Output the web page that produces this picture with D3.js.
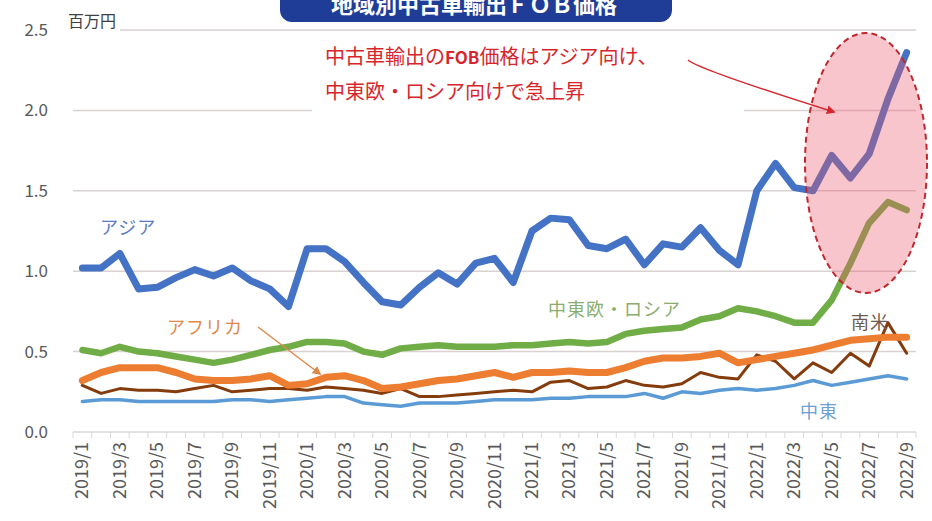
<!DOCTYPE html>
<html>
<head>
<meta charset="utf-8">
<script src="https://cdn.jsdelivr.net/npm/d3@7"></script>
<style>
  body { margin: 0; background: #fff; }
  svg { font-family: "Noto Sans CJK JP", "Noto Sans", sans-serif; }
</style>
</head>
<body>
<svg id="chart" width="932" height="521"></svg>
<script>
// months 2019/1 .. 2022/9
months = [];
for (yr = 2019; yr <= 2022; yr++) {
    for (m = 1; m <= 12; m++) {
        if (yr === 2022 && m > 9) break;
        months.push(`${yr}/${m}`);
    }
}

asia = [1.02,1.02,1.11,0.89,0.90,0.96,1.01,0.97,1.02,0.94,0.89,0.78,
        1.14,1.14,1.06,0.93,0.81,0.79,0.90,0.99,0.92,1.05,1.08,0.93,
        1.25,1.33,1.32,1.16,1.14,1.20,1.04,1.17,1.15,1.27,1.13,1.04,
        1.50,1.67,1.52,1.50,1.72,1.58,1.73,2.07,2.36];
ceeRussia = [0.51,0.49,0.53,0.50,0.49,0.47,0.45,0.43,0.45,0.48,0.51,0.53,
        0.56,0.56,0.55,0.50,0.48,0.52,0.53,0.54,0.53,0.53,0.53,0.54,
        0.54,0.55,0.56,0.55,0.56,0.61,0.63,0.64,0.65,0.70,0.72,0.77,
        0.75,0.72,0.68,0.68,0.82,1.05,1.30,1.43,1.38];
africa = [0.32,0.37,0.40,0.40,0.40,0.37,0.33,0.32,0.32,0.33,0.35,0.29,
        0.30,0.34,0.35,0.32,0.27,0.28,0.30,0.32,0.33,0.35,0.37,0.34,
        0.37,0.37,0.38,0.37,0.37,0.40,0.44,0.46,0.46,0.47,0.49,0.43,
        0.45,0.47,0.49,0.51,0.54,0.57,0.58,0.59,0.59];
southAmerica = [0.29,0.24,0.27,0.26,0.26,0.25,0.27,0.29,0.25,0.26,0.27,0.27,
        0.26,0.28,0.27,0.26,0.24,0.27,0.22,0.22,0.23,0.24,0.25,0.26,
        0.25,0.31,0.32,0.27,0.28,0.32,0.29,0.28,0.30,0.37,0.34,0.33,
        0.48,0.44,0.33,0.43,0.37,0.49,0.41,0.68,0.49];
middleEast = [0.19,0.20,0.20,0.19,0.19,0.19,0.19,0.19,0.20,0.20,0.19,0.20,
        0.21,0.22,0.22,0.18,0.17,0.16,0.18,0.18,0.18,0.19,0.20,0.20,
        0.20,0.21,0.21,0.22,0.22,0.22,0.24,0.21,0.25,0.24,0.26,0.27,
        0.26,0.27,0.29,0.32,0.29,0.31,0.33,0.35,0.33];
yTicks = [0, 0.5, 1.0, 1.5, 2.0, 2.5];
xLabels = months.filter((d, i) => i % 2 === 0);

series = [
    {name: "中東", values: middleEast, color: "#5b9bd5", width: 3.5},
    {name: "南米", values: southAmerica, color: "#843c0c", width: 3},
    {name: "アフリカ", values: africa, color: "#ed7d31", width: 7},
    {name: "中東欧・ロシア", values: ceeRussia, color: "#70ad47", width: 6.5},
    {name: "アジア", values: asia, color: "#4472c4", width: 7}
];

svg = d3.select("#chart");

x = d3.scalePoint().domain(months).range([73, 916]).padding(0.5);
y = d3.scaleLinear().domain([0, 2.5]).range([432, 30]);
step = x.step();

// gridlines
svg.append("g")
    .selectAll("line")
    .data(yTicks.slice(1))
    .join("line")
    .attr("x1", 73).attr("x2", 916)
    .attr("y1", d => y(d)).attr("y2", d => y(d))
    .attr("stroke", "#d9d2d0").attr("stroke-width", 1.5);

// y labels
svg.append("g")
    .selectAll("text")
    .data(yTicks)
    .join("text")
    .text(d => d.toFixed(1))
    .attr("x", 48).attr("y", d => y(d) + 6)
    .attr("text-anchor", "end")
    .attr("font-size", 17)
    .attr("fill", "#595959");

svg.append("rect").attr("x", 64).attr("y", 10).attr("width", 56).attr("height", 26).attr("fill", "#fff");
svg.append("text").text("百万円")
    .attr("x", 68).attr("y", 27)
    .attr("font-size", 16).attr("fill", "#404040");

// x axis
xAxis = svg.append("g").attr("transform", "translate(0,432)");
xAxis.append("line").attr("x1", 73).attr("x2", 916).attr("stroke", "#d9d9d9").attr("stroke-width", 1.5);
xAxis.selectAll(".tick")
    .data(months.concat(["end"]))
    .join("line")
    .attr("x1", (d, i) => 73 + i * step).attr("x2", (d, i) => 73 + i * step)
    .attr("y1", 0).attr("y2", 6)
    .attr("stroke", "#d9d9d9");
xAxis.selectAll("text")
    .data(xLabels)
    .join("text")
    .text(d => d)
    .attr("transform", d => `translate(${x(d) + 6}, 10) rotate(-90)`)
    .attr("text-anchor", "end")
    .attr("font-size", 18)
    .attr("fill", "#595959");

// lines
line = d3.line().x((d, i) => x(months[i])).y(d => y(d));
svg.append("g")
    .selectAll("path")
    .data(series)
    .join("path")
    .attr("d", d => line(d.values))
    .attr("fill", "none")
    .attr("stroke", d => d.color)
    .attr("stroke-width", d => d.width)
    .attr("stroke-linejoin", "round")
    .attr("stroke-linecap", "round");

// highlighted ellipse
svg.append("ellipse")
    .attr("cx", 866).attr("cy", 163).attr("rx", 61).attr("ry", 130)
    .attr("fill", "#eb5a6e").attr("fill-opacity", 0.35)
    .attr("stroke", "#c0282e").attr("stroke-width", 2)
    .attr("stroke-dasharray", "6,4");

// series labels
labels = [
    {text: "アジア", x: 100, y: 234, color: "#5b7bbf"},
    {text: "中東欧・ロシア", x: 548, y: 316, color: "#8aad6f"},
    {text: "アフリカ", x: 167, y: 334, color: "#e08848"},
    {text: "南米", x: 851, y: 329, color: "#6e5a50"},
    {text: "中東", x: 800, y: 418, color: "#6fa0d0"}
];
svg.append("g")
    .selectAll("text")
    .data(labels)
    .join("text")
    .text(d => d.text)
    .attr("x", d => d.x).attr("y", d => d.y)
    .attr("font-size", 18)
    .attr("letter-spacing", 1)
    .attr("fill", d => d.color);

defs = svg.append("defs");
defs.append("marker").attr("id", "arrOrange")
    .attr("viewBox", "0 0 10 10").attr("refX", 8).attr("refY", 5)
    .attr("markerWidth", 6).attr("markerHeight", 6).attr("orient", "auto")
    .append("path").attr("d", "M0,0L10,5L0,10z").attr("fill", "#e08848");
defs.append("marker").attr("id", "arrRed")
    .attr("viewBox", "0 0 10 10").attr("refX", 8).attr("refY", 5)
    .attr("markerWidth", 6).attr("markerHeight", 6).attr("orient", "auto")
    .append("path").attr("d", "M0,0L10,5L0,10z").attr("fill", "#d7262b");

svg.append("line")
    .attr("x1", 258).attr("y1", 327).attr("x2", 320).attr("y2", 374)
    .attr("stroke", "#e08848").attr("stroke-width", 1.5)
    .attr("marker-end", "url(#arrOrange)");

// annotation
svg.append("rect").attr("x", 312).attr("y", 40).attr("width", 432).attr("height", 75).attr("fill", "#fff");
note = svg.append("g").attr("fill", "#d7262b").attr("font-size", 20);
t1 = note.append("text").attr("x", 325).attr("y", 64);
t1.append("tspan").text("中古車輸出の");
t1.append("tspan").text("FOB").attr("font-weight", "bold").attr("font-size", 17);
t1.append("tspan").text("価格はアジア向け、");
note.append("text").attr("x", 325).attr("y", 99).text("中東欧・ロシア向けで急上昇");

svg.append("path")
    .attr("d", "M688,60 Q700,70 834,112")
    .attr("fill", "none")
    .attr("stroke", "#d7262b").attr("stroke-width", 1.5)
    .attr("marker-end", "url(#arrRed)");

// title box, cut at top edge
svg.append("rect")
    .attr("x", 280).attr("y", -20).attr("width", 392).attr("height", 42).attr("rx", 12)
    .attr("fill", "#1f3c96");
svg.append("text").text("地域別中古車輸出ＦＯＢ価格")
    .attr("x", 474).attr("y", 13)
    .attr("text-anchor", "middle")
    .attr("font-size", 22).attr("font-weight", "bold")
    .attr("fill", "#fff");
</script>
</body>
</html>
